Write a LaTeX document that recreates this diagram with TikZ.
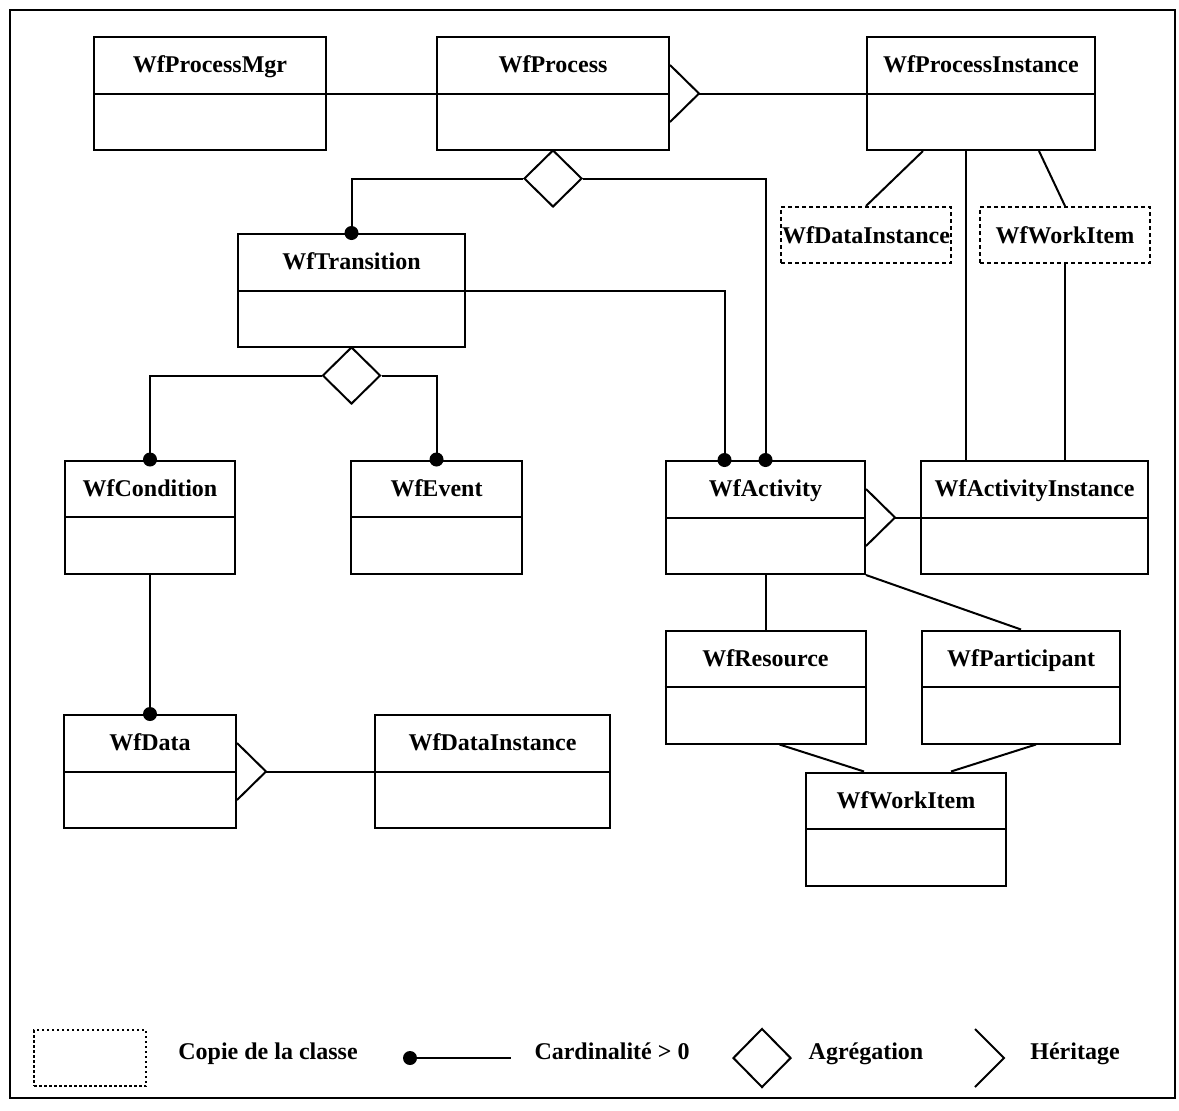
\documentclass[tikz,border=0pt]{standalone}
\usepackage{fontspec}
\setmainfont{Liberation Serif}
\usetikzlibrary{calc,shapes.geometric}

% class box: name, centre x, centre y, width, title
\newcommand{\umlclass}[5]{%
  \node[classbox, minimum width=#4pt] (#1) at (#2,#3) {};
  \draw (#1.west) -- (#1.east);
  \node[classtitle] (#1-t) at ($(#1.north)!0.5!(#1.center)$) {#5};
}
% inheritance triangle on the right side of a class: class, apex name
\newcommand{\inherit}[2]{%
  \draw ($(#1.east)+(0,-28.5)$) -- ($(#1.east)+(29,0)$) coordinate (#2) -- ($(#1.east)+(0,28.5)$);
}

\begin{document}
\begin{tikzpicture}[x=1pt,y=-1pt,
  line width=2pt,
  every node/.style={font=\fontsize{24}{28}\selectfont\bfseries},
  classbox/.style={draw, rectangle, minimum height=113pt, inner sep=0pt},
  copybox/.style={draw, rectangle, dash pattern=on 4pt off 3pt, minimum height=56pt,
                  inner sep=0pt, text height=16pt, text depth=0pt},
  classtitle/.style={inner sep=0pt, text height=16pt, text depth=0pt},
  legendtext/.style={inner sep=0pt, text height=16pt, text depth=0pt},
  aggr/.style={draw, diamond, aspect=1, inner sep=0pt, minimum width=58pt,
               minimum height=57pt, fill=white},
]
\useasboundingbox (0,0) rectangle (1179,1111);

% outer frame
\draw (10,10) rectangle (1175,1098);

% classes
\umlclass{PM}{210}{93.5}{232}{WfProcessMgr}
\umlclass{P}{553}{93.5}{232}{WfProcess}
\umlclass{PI}{981}{93.5}{228}{WfProcessInstance}
\node[copybox, minimum width=170pt] (DIc) at (866,235) {WfDataInstance};
\node[copybox, minimum width=170pt] (WIc) at (1065,235) {WfWorkItem};
\umlclass{T}{351.5}{290.5}{227}{WfTransition}
\umlclass{C}{150}{517}{170}{WfCondition}
\umlclass{E}{436.5}{517}{171}{WfEvent}
\umlclass{A}{765.5}{517.5}{199}{WfActivity}
\umlclass{AI}{1034.5}{517.5}{227}{WfActivityInstance}
\umlclass{R}{765.5}{687}{200}{WfResource}
\umlclass{Pa}{1021}{687}{198}{WfParticipant}
\umlclass{W}{906}{829}{200}{WfWorkItem}
\umlclass{D}{150}{771.5}{172}{WfData}
\umlclass{DI}{492.5}{771.5}{235}{WfDataInstance}

% aggregation diamonds
\node[aggr] (agg1) at (553,178.5) {};
\node[aggr] (agg2) at (351.5,375.5) {};

% connectors
\draw (PM.east) -- (P.west);
\inherit{P}{P-apex}
\draw (P-apex) -- (PI.west);

\coordinate (A-in) at ($(A.north)+(-41,0)$);
\draw (agg1.west) -| (T.north);
\draw (agg1.east) -| (A.north);
\draw (T.east) -| (A-in);
\draw (agg2.west) -| (C.north);
\draw (agg2.east) -| (E.north);
\draw (C.south) -- (D.north);
\inherit{D}{D-apex}
\draw (D-apex) -- (DI.west);

\coordinate (PI-l) at ($(PI.south)+(-58,0)$);
\coordinate (PI-m) at ($(PI.south)+(-15,0)$);
\coordinate (PI-r) at ($(PI.south)+(58,0)$);
\draw (PI-l) -- (DIc.north);
\draw (PI-m) -- (PI-m |- AI.north);
\draw (PI-r) -- (WIc.north);
\draw (WIc.south) -- (WIc.south |- AI.north);

\inherit{A}{A-apex}
\draw (A-apex) -- (AI.west);
\draw (A.south) -- (R.north);
\draw (A.south east) -- (Pa.north);
\coordinate (R-out) at ($(R.south)+(14,0)$);
\coordinate (W-inl) at ($(W.north)+(-42,0)$);
\draw (R-out) -- (W-inl);
\coordinate (Pa-out) at ($(Pa.south)+(15,0)$);
\coordinate (W-inr) at ($(W.north)+(45,0)$);
\draw (Pa-out) -- (W-inr);

% cardinality dots
\foreach \p in {T.north, A.north, A-in, C.north, E.north, D.north}
  \fill (\p) circle[radius=7pt];

% legend
\node[copybox, minimum width=112pt, dash pattern=on 2.5pt off 2.5pt] (lg-copy) at (90,1058) {};
\node[legendtext] (lg-copy-t) at (268,1051) {Copie de la classe};
\coordinate (lg-c1) at (410,1058);
\coordinate (lg-c2) at (511,1058);
\draw (lg-c1) -- (lg-c2);
\fill (lg-c1) circle[radius=7pt];
\node[legendtext] (lg-card) at (612,1051) {Cardinalité > 0};
\node[aggr, minimum height=59pt] (lg-agg) at (762,1058) {};
\node[legendtext] (lg-agg-t) at (866,1051) {Agrégation};
\draw (975,1029) -- (1004,1058) coordinate (lg-tri) -- (975,1087);
\node[legendtext] (lg-inh) at (1075,1051) {Héritage};
\end{tikzpicture}
\end{document}
